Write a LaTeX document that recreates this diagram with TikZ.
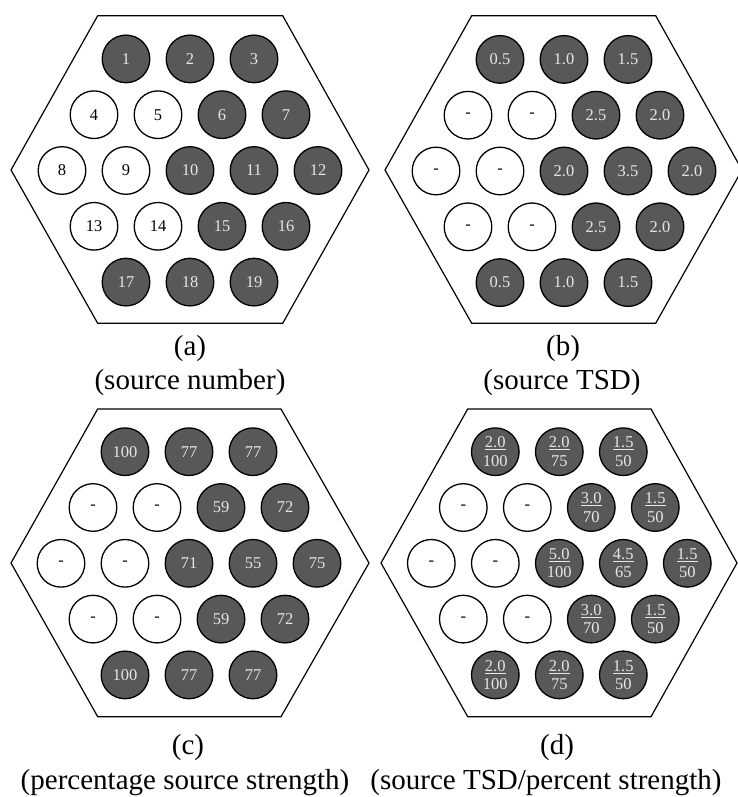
\documentclass[tikz,border=0pt]{standalone}
\usepackage{fontspec}
\setmainfont{Liberation Serif}
\definecolor{srcfill}{RGB}{88,88,88}
\definecolor{srctext}{RGB}{230,230,230}
\newlength\ulw
\newcommand\fr[2]{\settowidth\ulw{#1}#1\llap{\rule[-2.4pt]{\ulw}{0.8pt}}\\#2}
\def\dxs{{-1,0,1,-1.5,-0.5,0.5,1.5,-2,-1,0,1,2,-1.5,-0.5,0.5,1.5,-1,0,1}}
\def\dys{{-2,-2,-2,-1,-1,-1,-1,0,0,0,0,0,1,1,1,1,2,2,2}}
\def\fil{{1,1,1,0,0,1,1,0,0,1,1,1,0,0,1,1,1,1,1}}
\tikzset{
  srcbase/.style={circle, draw=black, line width=1.3pt, minimum size=47.6pt, inner sep=0pt, align=center,
    font=\fontsize{16.5}{18.5}\selectfont},
  src/.style={srcbase, fill=srcfill, text=srctext},
  emp/.style={srcbase, fill=white, text=black},
  hexa/.style={draw=black, line width=1.2pt, line join=miter},
  captxt/.style={font=\fontsize{29}{30}\selectfont, inner sep=0pt},
}
\newcommand\panel[4]{%
  \foreach \lab [count=\i from 0] in {#4} {
    \pgfmathsetmacro\px{#2+64*\dxs[\i]}
    \pgfmathsetmacro\py{#3+55.8*\dys[\i]}
    \pgfmathtruncatemacro\ff{\fil[\i]}
    \pgfmathtruncatemacro\n{\i+1}
    \ifnum\ff=1
      \node[src] (#1\n) at (\px,\py) {\lab};
    \else
      \node[emp] (#1\n) at (\px,\py) {\lab};
    \fi
  }%
}
\begin{document}
\begin{tikzpicture}[x=1pt,y=-1pt]
\useasboundingbox (0,0) rectangle (738,797);
% hexagons
\draw[hexa] (97.7,15.7) -- (282.7,15.7) -- (369,170) -- (282.7,323.3) -- (97.7,323.3) -- (11,170) -- cycle;
\draw[hexa] (471.7,15.7) -- (655.7,15.7) -- (742,170) -- (655.7,323.3) -- (471.7,323.3) -- (385,170) -- cycle;
\draw[hexa] (97.7,409) -- (281,409) -- (369,563) -- (281,716.7) -- (97.7,716.7) -- (11,563) -- cycle;
\draw[hexa] (467.7,409) -- (651,409) -- (737,563) -- (651,716.7) -- (467.7,716.7) -- (381,563) -- cycle;
% sources
\panel{a}{190}{170.5}{1,2,3,4,5,6,7,8,9,10,11,12,13,14,15,16,17,18,19}
\panel{b}{564}{171}{0.5,1.0,1.5,-,-,2.5,2.0,-,-,2.0,3.5,2.0,-,-,2.5,2.0,0.5,1.0,1.5}
\panel{c}{189}{563.3}{100,77,77,-,-,59,72,-,-,71,55,75,-,-,59,72,100,77,77}
\panel{d}{559.3}{563.3}{{\fr{2.0}{100}},{\fr{2.0}{75}},{\fr{1.5}{50}},-,-,{\fr{3.0}{70}},{\fr{1.5}{50}},-,-,{\fr{5.0}{100}},{\fr{4.5}{65}},{\fr{1.5}{50}},-,-,{\fr{3.0}{70}},{\fr{1.5}{50}},{\fr{2.0}{100}},{\fr{2.0}{75}},{\fr{1.5}{50}}}
% captions
\node[captxt] (labA) at (190,349) {(a)};
\node[captxt] (capA) at (190,383) {(source number)};
\node[captxt] (labB) at (563,349) {(b)};
\node[captxt] (capB) at (562,383) {(source TSD)};
\node[captxt] (labC) at (188,748) {(c)};
\node[captxt] (capC) at (185,783) {(percentage source strength)};
\node[captxt] (labD) at (557,748) {(d)};
\node[captxt] (capD) at (546,783) {(source TSD/percent strength)};
\end{tikzpicture}
\end{document}
